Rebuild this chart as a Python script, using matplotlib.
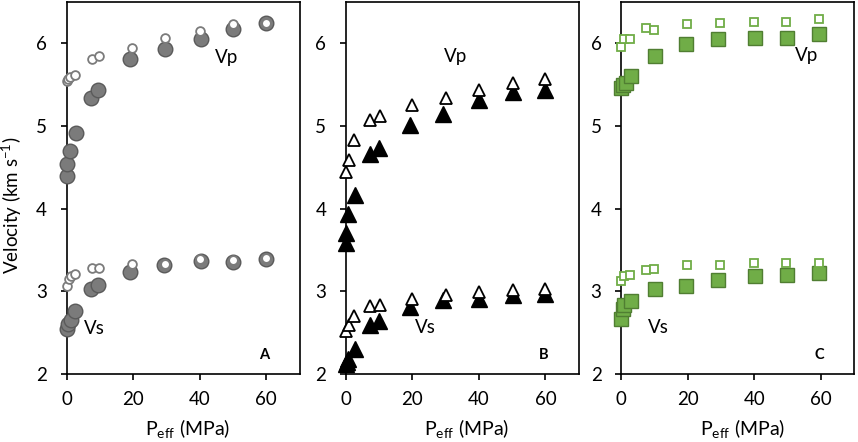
import matplotlib
matplotlib.use("Agg")
import matplotlib.pyplot as plt

plt.rcParams['font.family'] = ['Lato', 'DejaVu Sans']
plt.rcParams['mathtext.fontset'] = 'custom'
plt.rcParams['mathtext.rm'] = 'Lato'
plt.rcParams['mathtext.it'] = 'Lato:italic'

# ---- panel A: grey circles ----
a_vp_x = [0, 0.3, 1.1, 2.8, 7.5, 9.6, 19, 29.6, 40.4, 50.1, 60]
a_vp = [4.39, 4.54, 4.70, 4.91, 5.34, 5.43, 5.81, 5.93, 6.05, 6.17, 6.25]
a_vp_open_x = [0, 0.6, 1.2, 2.6, 7.6, 9.8, 19.6, 29.6, 40.2, 50.1, 60]
a_vp_open = [5.55, 5.57, 5.59, 5.62, 5.81, 5.85, 5.94, 6.07, 6.15, 6.23, 6.25]
a_vs_x = [0, 0.6, 1.3, 2.5, 7.5, 9.5, 19, 29.4, 40.4, 50.1, 60]
a_vs = [2.55, 2.60, 2.65, 2.76, 3.03, 3.08, 3.23, 3.32, 3.37, 3.36, 3.39]
a_vs_open_x = [0, 0.8, 1.3, 2.5, 7.6, 9.8, 19.6, 29.6, 40.2, 50.1, 60]
a_vs_open = [3.07, 3.15, 3.18, 3.21, 3.28, 3.28, 3.33, 3.33, 3.39, 3.38, 3.40]

# ---- panel B: black triangles ----
b_vp_x = [0, 0, 0.6, 2.8, 7.3, 9.9, 19.2, 29.2, 39.9, 50.3, 60]
b_vp = [3.58, 3.71, 3.94, 4.16, 4.66, 4.73, 5.01, 5.15, 5.32, 5.41, 5.43]
b_vp_open_x = [0, 1.0, 2.5, 7.3, 10.2, 19.9, 30.1, 39.9, 50.3, 60]
b_vp_open = [4.44, 4.59, 4.83, 5.07, 5.12, 5.26, 5.34, 5.44, 5.52, 5.57]
b_vs_x = [0, 0.3, 0.6, 2.8, 7.3, 9.9, 19.2, 29.2, 39.9, 50.3, 60]
b_vs = [2.12, 2.15, 2.18, 2.30, 2.59, 2.64, 2.81, 2.89, 2.91, 2.96, 2.97]
b_vs_open_x = [0, 1.0, 2.5, 7.3, 10.2, 19.9, 30.1, 39.9, 50.3, 60]
b_vs_open = [2.52, 2.59, 2.70, 2.82, 2.84, 2.91, 2.95, 2.99, 3.02, 3.03]

# ---- panel C: green squares ----
c_vp_x = [0, 0.7, 1.4, 2.9, 10.3, 19.4, 29, 40.2, 50, 59.6]
c_vp = [5.46, 5.50, 5.52, 5.60, 5.85, 5.99, 6.05, 6.07, 6.07, 6.11]
c_vp_open_x = [0, 1.0, 2.6, 7.4, 9.9, 19.9, 29.7, 39.9, 49.7, 59.6]
c_vp_open = [5.96, 6.05, 6.05, 6.18, 6.16, 6.23, 6.24, 6.26, 6.26, 6.29]
c_vs_x = [0, 0.5, 1.0, 2.9, 10.3, 19.4, 29, 40.2, 50, 59.6]
c_vs = [2.67, 2.79, 2.83, 2.88, 3.03, 3.07, 3.14, 3.18, 3.20, 3.22]
c_vs_open_x = [0, 1.0, 2.6, 7.4, 9.9, 19.9, 29.7, 39.9, 49.7, 59.6]
c_vs_open = [3.13, 3.18, 3.20, 3.26, 3.27, 3.32, 3.32, 3.34, 3.34, 3.34]

panels = [
    dict(series=[(a_vp_x, a_vp), (a_vs_x, a_vs)],
         open_series=[(a_vp_open_x, a_vp_open), (a_vs_open_x, a_vs_open)],
         marker='o', ms=10.5, ms_open=6.3, face='#7b7b7b', edge='#5a5a5a',
         open_edge='#7b7b7b', letter='A',
         vp_pos=(48, 5.83), vs_pos=(8.3, 2.55)),
    dict(series=[(b_vp_x, b_vp), (b_vs_x, b_vs)],
         open_series=[(b_vp_open_x, b_vp_open), (b_vs_open_x, b_vs_open)],
         marker='^', ms=11, ms_open=8, face='black', edge='black',
         open_edge='black', letter='B',
         vp_pos=(33, 5.84), vs_pos=(24, 2.56)),
    dict(series=[(c_vp_x, c_vp), (c_vs_x, c_vs)],
         open_series=[(c_vp_open_x, c_vp_open), (c_vs_open_x, c_vs_open)],
         marker='s', ms=10.5, ms_open=6.3, face='#70ad47', edge='#507e32',
         open_edge='#70ad47', letter='C',
         vp_pos=(55.8, 5.85), vs_pos=(11.3, 2.56)),
]

lefts = [66.5 / 858, 345.7 / 858, 621 / 858]
ax_bottom, ax_top = 374, 2   # pixel rows of the axes box

fig = plt.figure(figsize=(8.58, 4.42), dpi=100)

for left, p in zip(lefts, panels):
    ax = fig.add_axes([left, 1 - ax_bottom / 442, 233 / 858,
                       (ax_bottom - ax_top) / 442])
    for x, y in p['series']:
        ax.plot(x, y, linestyle='none', marker=p['marker'], ms=p['ms'],
                markerfacecolor=p['face'], markeredgecolor=p['edge'],
                markeredgewidth=1.0, clip_on=False, zorder=3)
    for x, y in p['open_series']:
        ax.plot(x, y, linestyle='none', marker=p['marker'], ms=p['ms_open'],
                markerfacecolor='white', markeredgecolor=p['open_edge'],
                markeredgewidth=1.3, clip_on=False, zorder=4)

    ax.set_xlim(0, 70)
    ax.set_ylim(2, 6.5)
    ax.set_xticks([0, 20, 40, 60])
    ax.set_yticks([2, 3, 4, 5, 6])
    ax.tick_params(direction='out', length=4, width=1.2, labelsize=13.5,
                   top=False, right=False, colors='black')
    ax.tick_params(axis='x', pad=8)
    ax.tick_params(axis='y', pad=10)
    for s in ax.spines.values():
        s.set_linewidth(1.2)
        s.set_color('black')

    ax.text(*p['vp_pos'], 'Vp', fontsize=13.5, ha='center', va='center')
    ax.text(*p['vs_pos'], 'Vs', fontsize=13.5, ha='center', va='center')
    ax.text(59.5, 2.23, p['letter'], fontsize=10.5, fontweight='bold',
            ha='center', va='center')
    ax.set_xlabel(r'P$_{\mathrm{eff}}$ (MPa)', fontsize=14)
    ax.xaxis.set_label_coords(0.52, -(428 - ax_bottom) / (ax_bottom - ax_top))
    ax.xaxis.label.set_va('center')

fig.text(12 / 858, 1 - 205 / 442, r'Velocity (km s$^{-1}$)', rotation=90,
         fontsize=13.5, ha='center', va='center')

fig.savefig('out.png', dpi=100)
